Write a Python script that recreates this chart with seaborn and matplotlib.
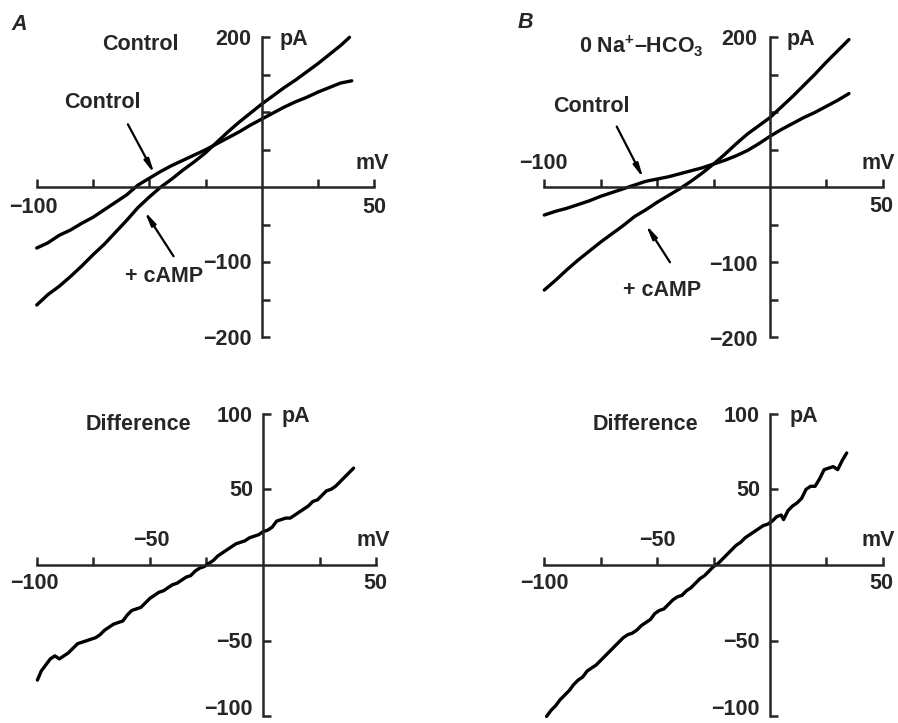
import numpy as np
import matplotlib
matplotlib.use('Agg')
import matplotlib.pyplot as plt
import seaborn as sns

# Panel A (top): membrane voltage (mV) vs current (pA)
a_ctrl_v = [-100, -95, -90, -85, -80, -75, -70, -65, -60, -55, -50, -45, -40, -35,
            -30, -25, -20, -15, -10, -5, 0, 5, 10, 15, 20, 25, 30, 35, 40]
a_ctrl_i = [-81, -74, -64, -57, -48, -40, -30, -20, -10, 3, 12, 21, 29, 36,
            43, 50, 58, 66, 74, 83, 91, 99, 107, 114, 120, 127, 133, 139, 142]
a_camp_v = [-100, -95, -90, -85, -80, -75, -70, -65, -60, -55, -50, -45, -40, -35,
            -30, -25, -20, -15, -10, -5, 0, 5, 10, 15, 20, 25, 30, 35, 39]
a_camp_i = [-157, -143, -132, -119, -105, -90, -76, -60, -44, -27, -13, 0, 11, 23,
            34, 46, 60, 74, 87, 99, 111, 122, 133, 143, 154, 165, 177, 189, 200]

# Panel B (top): 0 Na+-HCO3
b_ctrl_v = [-100, -95, -90, -85, -80, -75, -70, -65, -60, -55, -50, -45, -40, -35,
            -30, -25, -20, -15, -10, -5, 0, 5, 10, 15, 20, 25, 30, 35]
b_ctrl_i = [-37, -32, -28, -23, -18, -12, -7, -2, 3, 8, 11, 14, 18, 22,
            26, 31, 36, 42, 49, 58, 68, 77, 85, 93, 100, 108, 116, 125]
b_camp_v = [-100, -95, -90, -85, -80, -75, -70, -65, -60, -55, -50, -45, -40, -35,
            -30, -25, -20, -15, -10, -5, 0, 5, 10, 15, 20, 25, 30, 35]
b_camp_i = [-137, -124, -110, -97, -85, -73, -62, -51, -39, -30, -20, -11, -2, 8,
            19, 31, 44, 58, 71, 82, 93, 107, 121, 136, 151, 167, 182, 197]

# Difference traces (cAMP - control)
a_diff_v = [-99.7, -98, -96, -94, -92, -90, -88, -86, -84, -82, -80, -78, -76, -74,
            -72, -70, -68, -66, -64, -62, -60, -58, -56, -54, -52, -50, -48, -46,
            -44, -42, -40, -38, -36, -34, -32, -30, -28, -26, -24, -22, -20, -18,
            -16, -14, -12, -10, -8, -6, -4, -2, 0, 2, 4, 6, 8, 10, 12, 14, 16, 18,
            20, 22, 24, 26, 28, 30, 32, 34, 36, 38, 40]
a_diff_i = [-76, -70, -66, -62, -60, -62, -60, -58, -55, -52, -51, -50, -49, -48,
            -46, -43, -41, -39, -38, -37, -33, -30, -29, -28, -25, -22, -20, -18,
            -17, -15, -13, -12, -10, -8, -7, -4, -2, -1, 1, 3, 6, 8,
            10, 12, 14, 15, 16, 18, 19, 20, 22, 23, 25, 29, 30, 31, 31, 33, 35, 37,
            39, 42, 43, 46, 49, 50, 52, 55, 58, 61, 64]
b_diff_v = [-99, -97, -95, -93, -91, -89, -87, -85, -83, -81, -79, -77, -75, -73,
            -71, -69, -67, -65, -63, -61, -59, -57, -55, -53, -51, -49, -47, -45,
            -43, -41, -39, -37, -35, -33, -31, -29, -27, -25, -23, -21, -19, -17,
            -15, -13, -11, -9, -7, -5, -3, -1, 1, 3, 5, 6, 8, 10, 12, 14, 16, 18,
            20, 22, 24, 26, 28, 30, 32, 34]
b_diff_i = [-100, -96, -93, -89, -86, -83, -79, -76, -74, -70, -68, -66, -63, -60,
            -57, -54, -51, -48, -46, -45, -43, -40, -38, -36, -32, -30, -29, -26,
            -23, -21, -20, -17, -15, -12, -9, -7, -4, -1, 1, 4, 7, 10,
            13, 15, 18, 20, 22, 24, 26, 27, 29, 32, 33, 30, 36, 39, 41, 44, 50, 52,
            52, 57, 63, 64, 65, 63, 69, 74]

x_ticks = [-100, -75, -50, -25, 25, 50]
top_yticks = [-200, -150, -100, -50, 50, 100, 150, 200]
bot_yticks = [-100, -50, 50, 100]

sns.set_style('ticks')
plt.rcParams['font.family'] = ['Liberation Sans', 'DejaVu Sans']
plt.rcParams['font.weight'] = 'bold'
plt.rcParams['mathtext.fontset'] = 'custom'
plt.rcParams['mathtext.rm'] = 'Liberation Sans:bold'
plt.rcParams['mathtext.default'] = 'rm'

FS = 15.5
fig = plt.figure(figsize=(8.98, 7.23), dpi=100)


def frame(ax, ylim, yticks):
    ax.set_xlim(-100, 50)
    ax.set_ylim(*ylim)
    ax.patch.set_visible(False)
    for s in ['top', 'right']:
        ax.spines[s].set_visible(False)
    for s in ['left', 'bottom']:
        ax.spines[s].set_position(('data', 0))
        ax.spines[s].set_linewidth(1.8)
    ax.set_xticks(x_ticks)
    ax.set_yticks(yticks)
    ax.tick_params(direction='in', length=5.5, width=1.8,
                   labelbottom=False, labelleft=False)
    ax.set_xlabel('')
    ax.set_ylabel('')


def trace(ax, v, i):
    sns.lineplot(x=np.array(v), y=np.array(i), ax=ax, color='black', lw=2.4,
                 sort=False, estimator=None)
    for ln in ax.lines:
        ln.set_clip_on(False)


def txt(ax, x, y, s, ha='center', va='center'):
    ax.text(x, y, s, ha=ha, va=va, fontsize=FS, fontweight='bold')


def arrow(ax, tail, head):
    ax.annotate('', xy=head, xytext=tail,
                arrowprops=dict(arrowstyle='-|>,head_length=0.8,head_width=0.15',
                                color='black', lw=1.6, shrinkA=0, shrinkB=0))


# --- A top
ax = fig.add_axes([0.0409, 0.5335, 0.3759, 0.4149])
frame(ax, (-200, 200), top_yticks)
trace(ax, a_ctrl_v, a_ctrl_i)
trace(ax, a_camp_v, a_camp_i)
txt(ax, -53.9, 190, 'Control')
txt(ax, -70.9, 113, 'Control')
arrow(ax, (-59.5, 84), (-47.7, 18))
txt(ax, -43.2, -119, '+ cAMP')
arrow(ax, (-39.2, -92), (-52.1, -32))
txt(ax, -4.5, 197, '200', ha='right')
txt(ax, 7.9, 197, 'pA', ha='left')
txt(ax, 49, 32, 'mV')
txt(ax, -4.5, -101, '\u2212100', ha='right')
txt(ax, -4.5, -203, '\u2212200', ha='right')
txt(ax, -101.7, -27, '\u2212100')
txt(ax, 50, -27, '50')

# --- B top
ax = fig.add_axes([0.6061, 0.5335, 0.3770, 0.4149])
frame(ax, (-200, 200), top_yticks)
trace(ax, b_ctrl_v, b_ctrl_i)
trace(ax, b_camp_v, b_camp_i)
txt(ax, -56.9, 188, '0 Na$^{+}$\u2013HCO$_{3}$')
txt(ax, -79, 108, 'Control')
arrow(ax, (-67.9, 81), (-56.1, 12))
txt(ax, -48, -137, '+ cAMP')
arrow(ax, (-44.3, -100), (-55, -50))
txt(ax, -5.5, 197, '200', ha='right')
txt(ax, 7.4, 197, 'pA', ha='left')
txt(ax, 48, 32, 'mV')
txt(ax, -5.5, -104, '\u2212100', ha='right')
txt(ax, -5.5, -204, '\u2212200', ha='right')
txt(ax, -100.5, 32, '\u2212100')
txt(ax, 49.5, -26, '50')

# --- A bottom
ax = fig.add_axes([0.0409, 0.0091, 0.3781, 0.4188])
frame(ax, (-100, 100), bot_yticks)
trace(ax, a_diff_v, a_diff_i)
txt(ax, -55.2, 92.5, 'Difference')
txt(ax, -4.4, 98, '100', ha='right')
txt(ax, 8.1, 98, 'pA', ha='left')
txt(ax, -4.4, 49, '50', ha='right')
txt(ax, -4.4, -51, '\u221250', ha='right')
txt(ax, -4.4, -95.5, '\u2212100', ha='right')
txt(ax, -49.3, 16, '\u221250')
txt(ax, 48.6, 16.5, 'mV')
txt(ax, -100.9, -12.5, '\u2212100')
txt(ax, 49.4, -12.5, '50')

# --- B bottom
ax = fig.add_axes([0.6061, 0.0091, 0.3770, 0.4188])
frame(ax, (-100, 100), bot_yticks)
trace(ax, b_diff_v, b_diff_i)
txt(ax, -55.4, 93, 'Difference')
txt(ax, -4.4, 98, '100', ha='right')
txt(ax, 8.6, 98, 'pA', ha='left')
txt(ax, -4.4, 49, '50', ha='right')
txt(ax, -4.4, -51, '\u221250', ha='right')
txt(ax, -4.4, -95.5, '\u2212100', ha='right')
txt(ax, -49.9, 16, '\u221250')
txt(ax, 48, 16.5, 'mV')
txt(ax, -100, -12.5, '\u2212100')
txt(ax, 49.5, -12.5, '50')

fig.text(19 / 898, 1 - 24 / 723, 'A', style='italic', fontweight='bold',
         fontsize=FS, ha='center', va='center')
fig.text(525 / 898, 1 - 23 / 723, 'B', style='italic', fontweight='bold',
         fontsize=FS, ha='center', va='center')

fig.savefig('out.png', dpi=100)
